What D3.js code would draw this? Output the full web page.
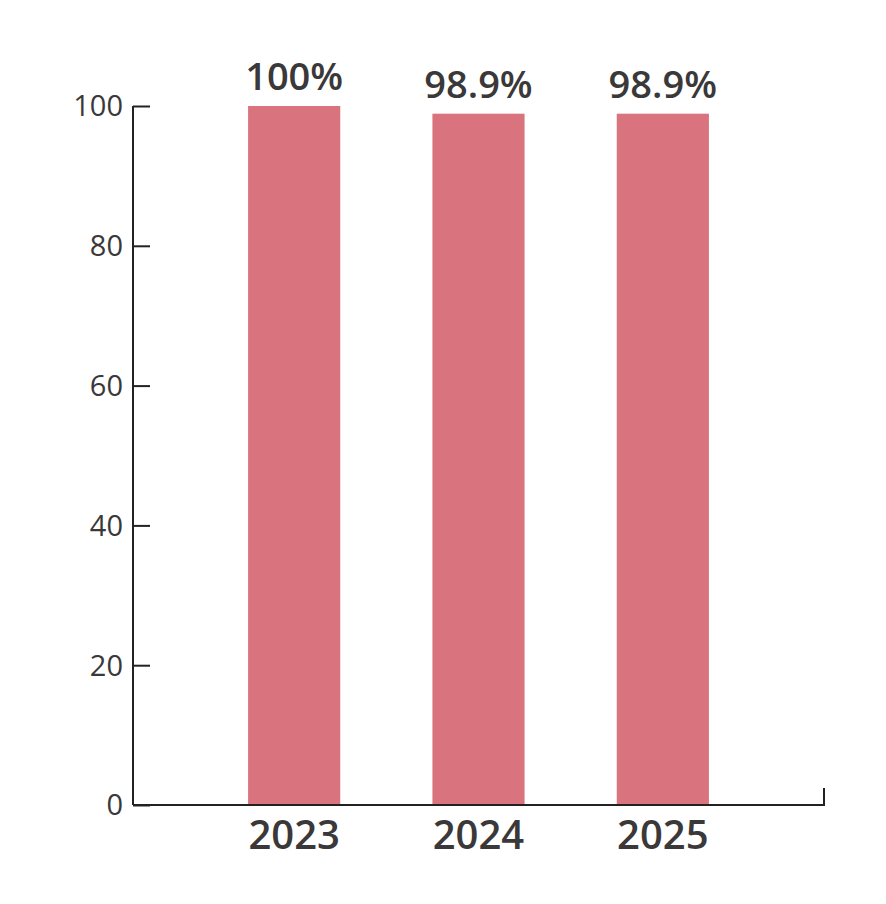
<!DOCTYPE html>
<html>
<head>
<meta charset="utf-8">
<script src="https://cdn.jsdelivr.net/npm/d3@7"></script>
<style>
  body { margin: 0; background: #fff; }
  text { font-family: "Open Sans", "Noto Sans", sans-serif; fill: #3a3839; }
</style>
</head>
<body>
<svg width="886" height="904"></svg>
<script>
// chart data
var years = ["2023", "2024", "2025"];
var rates = [100, 98.9, 98.9];
var valueLabels = ["100%", "98.9%", "98.9%"];
var yTicks = [0, 20, 40, 60, 80, 100];

var svg = d3.select("svg");

var plotLeft = 133, plotRight = 824, plotTop = 106, plotBottom = 805;

var x = d3.scaleBand()
    .domain(years)
    .range([202, 755])
    .paddingInner(0.5)
    .paddingOuter(0.25);

var y = d3.scaleLinear()
    .domain([0, 100])
    .range([plotBottom, plotTop]);

// bars
svg.selectAll("rect.bar")
    .data(rates)
    .enter()
    .append("rect")
    .attr("class", "bar")
    .attr("x", function(d, i) { return x(years[i]); })
    .attr("y", function(d) { return y(d); })
    .attr("width", x.bandwidth())
    .attr("height", function(d) { return y(0) - y(d); })
    .attr("fill", "#d9737e");

// value labels
svg.selectAll("text.val")
    .data(rates)
    .enter()
    .append("text")
    .attr("class", "val")
    .attr("x", function(d, i) { return x(years[i]) + x.bandwidth() / 2; })
    .attr("y", function(d) { return y(d) - 16; })
    .attr("text-anchor", "middle")
    .style("font-size", "38px")
    .style("font-weight", "600")
    .text(function(d, i) { return valueLabels[i]; });

// y axis
var yAxis = d3.axisRight(y)
    .tickValues(yTicks)
    .tickSize(17)
    .tickPadding(0)
    .tickFormat(function(d) { return ""; });

var gy = svg.append("g")
    .attr("transform", "translate(" + plotLeft + ",0)")
    .call(yAxis);
gy.select(".domain").remove();
gy.selectAll(".tick line").attr("stroke", "#222").attr("stroke-width", 2);

svg.append("line")
    .attr("x1", plotLeft).attr("x2", plotLeft)
    .attr("y1", y(100)).attr("y2", y(0))
    .attr("stroke", "#222").attr("stroke-width", 2);

// y tick labels
svg.selectAll("text.ytick")
    .data(yTicks)
    .enter()
    .append("text")
    .attr("class", "ytick")
    .attr("x", 123)
    .attr("y", function(d) { return y(d); })
    .attr("dy", "0.36em")
    .attr("text-anchor", "end")
    .style("font-size", "29px")
    .style("font-weight", "400")
    .text(function(d) { return d; });

// x axis line + end tick
svg.append("path")
    .attr("d", "M" + plotLeft + "," + plotBottom + "H" + plotRight + "V" + (plotBottom - 17))
    .attr("fill", "none")
    .attr("stroke", "#222")
    .attr("stroke-width", 2);

// year labels
svg.selectAll("text.year")
    .data(years)
    .enter()
    .append("text")
    .attr("class", "year")
    .attr("x", function(d) { return x(d) + x.bandwidth() / 2; })
    .attr("y", plotBottom + 44)
    .attr("text-anchor", "middle")
    .style("font-size", "40px")
    .style("font-weight", "600")
    .text(function(d) { return d; });
</script>
</body>
</html>
